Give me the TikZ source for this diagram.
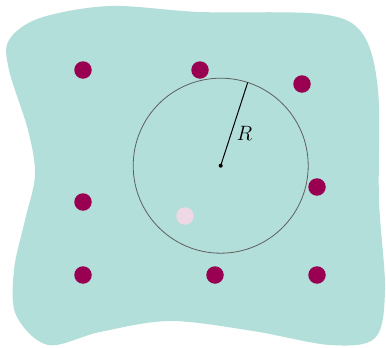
\documentclass[tikz,border=0pt]{standalone}
\definecolor{blobfill}{RGB}{178,223,218}
\definecolor{dotmag}{RGB}{153,0,82}
\definecolor{dotpale}{RGB}{238,216,229}
\definecolor{circgray}{RGB}{95,95,95}
\tikzset{
  site/.style={circle,fill=dotmag,inner sep=0pt,minimum size=17.5pt},
  palesite/.style={circle,fill=dotpale,inner sep=0pt,minimum size=17.5pt},
  ctr/.style={circle,fill=black,inner sep=0pt,minimum size=4pt},
}
\begin{document}
\begin{tikzpicture}[x=1pt,y=-1pt]
\useasboundingbox (0,0) rectangle (386,348);
\fill[blobfill] plot[smooth cycle,tension=0.55] coordinates {
 (9,40) (40,18) (110,6) (200,12) (320,14) (362,33) (378,90) (379,200)
 (385,290) (375,338) (330,345) (253,331) (170,321) (100,332) (48,345)
 (16,315) (14,270) (25,220) (35,175) (28,130) (9,70)};
\node[site] (s1) at (83,70) {};
\node[site] (s2) at (200,70) {};
\node[site] (s3) at (302,84) {};
\node[site] (s4) at (317,187) {};
\node[site] (s5) at (83,202) {};
\node[site] (s6) at (83,275) {};
\node[site] (s7) at (215,275) {};
\node[site] (s8) at (317,275) {};
\node[palesite] (p1) at (185,216) {};
\coordinate (c) at (220.7,165.7);
\coordinate (edge) at (247.7,82.5);
\draw[circgray,line width=0.8pt] (c) circle[radius=87.5];
\draw[black,line width=1pt] (c) -- (edge);
\node[ctr] (cd) at (c) {};
\node (lab) at (244.5,133) {\fontsize{20}{22}\selectfont$R$};
\end{tikzpicture}
\end{document}
